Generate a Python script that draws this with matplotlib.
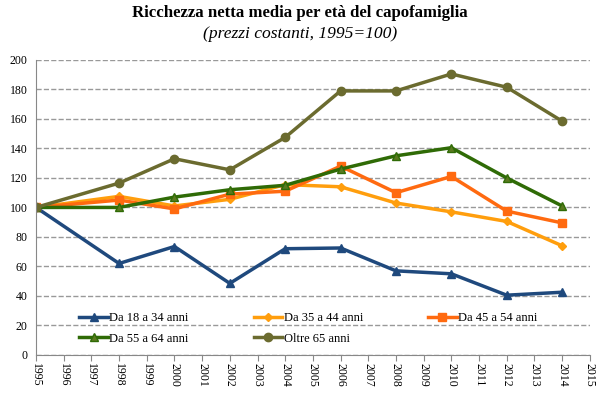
import matplotlib.pyplot as plt

# data (1995 = 100)
years = [1995, 1998, 2000, 2002, 2004, 2006, 2008, 2010, 2012, 2014]
da_18_34 = [100, 62, 73.5, 48.5, 72, 72.5, 57, 55, 40.5, 42.5]
da_35_44 = [100, 107.5, 101, 105.5, 115.5, 114, 103, 97, 90.5, 74]
da_45_54 = [100, 105, 99, 109, 111, 128, 110, 121, 97.5, 89.5]
da_55_64 = [100, 100, 107, 112, 115, 126, 135, 140.5, 120, 101]
oltre_65 = [100, 116.5, 133, 125.5, 147.5, 179, 179, 190.5, 181.5, 158.5]

plt.rcParams['font.family'] = ['Liberation Serif', 'DejaVu Serif']

fig = plt.figure(figsize=(6, 3.97), dpi=100)
ax = fig.add_axes([0.06, 0.106, 0.923, 0.743])

l1, = ax.plot(years, da_18_34, color='#1f497d', lw=2.5, marker='^', ms=6, label='Da 18 a 34 anni')
l2, = ax.plot(years, da_35_44, color='#ff9e0d', lw=2.5, marker='D', ms=4, label='Da 35 a 44 anni')
l3, = ax.plot(years, da_45_54, color='#ff6a10', lw=2.5, marker='s', ms=6, label='Da 45 a 54 anni')
l4, = ax.plot(years, da_55_64, color='#2f6b06', lw=2.5, marker='^', ms=6, mfc='#5a7a20', label='Da 55 a 64 anni')
l5, = ax.plot(years, oltre_65, color='#6b6b2f', lw=2.5, marker='o', ms=6, label='Oltre 65 anni')

ax.set_xlim(1995, 2015)
ax.set_ylim(0, 200)
ax.set_xticks(range(1995, 2016))
ax.set_xticklabels([str(y) for y in range(1995, 2016)], rotation=270, fontsize=8.5)
ax.set_yticks(range(0, 201, 20))
ax.tick_params(axis='y', labelsize=8.5, length=0, pad=6)
ax.tick_params(axis='x', length=4, color='#888888', pad=2)
ax.grid(axis='y', ls='--', color='#999999', lw=1)
ax.set_axisbelow(True)
for s in ['top', 'right']:
    ax.spines[s].set_visible(False)
for s in ['left', 'bottom']:
    ax.spines[s].set_color('#888888')

# order so the legend reads row by row
handles = [l1, l4, l2, l5, l3]
ax.legend(handles=handles, labels=[h.get_label() for h in handles],
          loc='lower left', bbox_to_anchor=(0.078, 0.035), ncol=3, frameon=False,
          fontsize=9, handlelength=2.3, columnspacing=5.2, handletextpad=0.1,
          labelspacing=0.65, borderpad=0, borderaxespad=0)

fig.text(0.5, 0.966, 'Ricchezza netta media per età del capofamiglia',
         ha='center', va='center', fontsize=12.1, fontweight='bold')
fig.text(0.5, 0.914, '(prezzi costanti, 1995=100)', ha='center', va='center',
         fontsize=12.6, style='italic')

plt.savefig('out.png', dpi=100)
